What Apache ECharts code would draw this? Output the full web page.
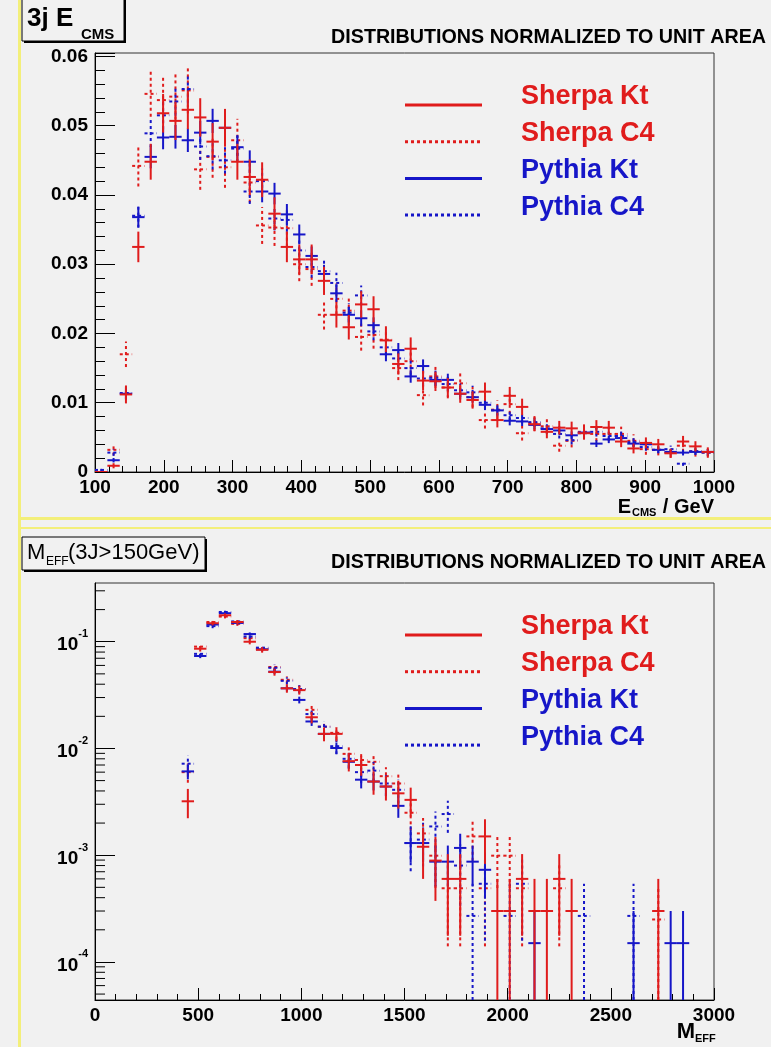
<!DOCTYPE html>
<html><head><meta charset="utf-8">
<script src="https://cdn.jsdelivr.net/npm/echarts@6/dist/echarts.min.js"></script>
<style>html,body{margin:0;padding:0;background:#f1f1f1}#c{width:771px;height:1047px}</style>
</head><body><div id="c"></div>
<script>
// ---------------- DATA ----------------
// Top panel: E_CMS, 50 bins of 18 GeV from 100 to 1000 GeV
const ECMS_LO = 100, ECMS_BW = 18, ECMS_NB = 50;
const ECMS_SHERPA_KT = [0,0.0009,0.0112,0.0325,0.0448,0.0518,0.0507,0.0523,0.0512,0.0477,
  0.0497,0.0448,0.0426,0.0422,0.0373,0.0325,0.0307,0.0307,0.0276,0.0227,
  0.0209,0.0242,0.0235,0.0190,0.0156,0.0178,0.0132,0.0131,0.0122,0.0113,
  0.0104,0.0116,0.0075,0.0110,0.0094,0.0069,0.0058,0.0064,0.0063,0.0056,
  0.0065,0.0064,0.0044,0.0034,0.0042,0.0040,0.0027,0.0044,0.0037,0.0029];
const ECMS_SHERPA_C4 = [0,0.0032,0.0170,0.0442,0.0546,0.0537,0.0542,0.0551,0.0437,0.0455,
  0.0440,0.0479,0.0418,0.0356,0.0353,0.0352,0.0300,0.0293,0.0227,0.0250,
  0.0233,0.0195,0.0198,0.0191,0.0150,0.0160,0.0111,0.0138,0.0122,0.0128,
  0.0108,0.0075,0.0090,0.0098,0.0056,0.0071,0.0066,0.0038,0.0045,0.0058,
  0.0055,0.0055,0.0055,0.0045,0.0033,0.0032,0.0028,0.0038,0.0030,0.0028];
const ECMS_PYTHIA_KT = [0,0.0017,0.0113,0.0368,0.0455,0.0483,0.0484,0.0479,0.0490,0.0507,
  0.0497,0.0469,0.0448,0.0405,0.0402,0.0372,0.0343,0.0312,0.0286,0.0258,
  0.0227,0.0222,0.0212,0.0170,0.0176,0.0138,0.0153,0.0133,0.0133,0.0113,
  0.0108,0.0097,0.0089,0.0074,0.0073,0.0068,0.0062,0.0060,0.0053,0.0057,
  0.0041,0.0047,0.0049,0.0041,0.0040,0.0032,0.0029,0.0028,0.0029,0.0029];
const ECMS_PYTHIA_C4 = [0.0003,0.0028,0.0114,0.0370,0.0489,0.0515,0.0535,0.0553,0.0470,0.0456,
  0.0450,0.0467,0.0405,0.0420,0.0366,0.0364,0.0320,0.0296,0.0290,0.0273,
  0.0230,0.0255,0.0203,0.0180,0.0164,0.0150,0.0135,0.0136,0.0127,0.0118,
  0.0115,0.0100,0.0089,0.0082,0.0078,0.0072,0.0063,0.0055,0.0046,0.0056,
  0.0058,0.0052,0.0052,0.0043,0.0036,0.0032,0.0033,0.0012,0.0030,0.0028];

// Bottom panel: M_EFF, 50 bins of 60 GeV from 0 to 3000 (null = empty bin)
const MEFF_LO = 0, MEFF_BW = 60, MEFF_NB = 50;
const _ = null;
const MEFF_SHERPA_KT = [_,_,_,_,_,_,_,0.0032,0.086,0.149,
  0.177,0.153,0.100,0.084,0.052,0.0366,0.0352,0.0196,0.0137,0.0137,
  0.0076,0.0070,0.0049,0.0044,0.0038,0.0033,0.0012,0.00089,0.00060,0.00060,
  _,0.0015,0.00030,0.00030,0.00060,0.00030,0.00030,0.00060,0.00030,_,
  _,_,_,_,_,0.00030,_,_,_,_];
const MEFF_SHERPA_C4 = [_,_,_,_,_,_,_,0.0060,0.090,0.153,
  0.172,0.147,0.108,0.086,0.058,0.044,0.036,0.023,0.016,0.014,
  0.0089,0.0078,0.0075,0.0055,0.0047,0.0025,0.0016,0.00099,0.00049,0.00049,
  0.0015,0.00049,0.00099,0.00099,0.00049,_,_,0.00049,_,_,
  _,_,_,_,_,0.00025,_,_,_,_];
const MEFF_PYTHIA_KT = [_,_,_,_,_,_,_,0.0061,0.0735,0.145,
  0.185,0.150,0.118,0.085,0.0524,0.0366,0.0285,0.0179,0.0137,0.0101,
  0.0075,0.0051,0.0049,0.0044,0.0029,0.0013,0.0013,0.00087,0.00087,0.00117,
  0.00087,0.00073,_,_,_,0.00015,_,_,_,_,
  _,_,_,0.00015,_,_,0.00015,0.00015,_,_];
const MEFF_PYTHIA_C4 = [_,_,_,_,_,_,_,0.0072,0.077,0.140,
  0.190,0.155,0.112,0.088,0.057,0.043,0.036,0.021,0.016,0.0105,
  0.0080,0.0060,0.0062,0.0047,0.0041,0.0013,0.0014,0.00186,0.00243,0.00080,
  0.00027,0.00054,_,0.00027,0.00054,_,_,_,_,0.00027,
  _,_,_,0.00027,_,_,_,_,_,_];

// per-event weights used for the sqrt(sum w^2) statistical error bars
const W_TOP = {sk: 1.5e-4, sc: 2.0e-4, pk: 6e-5, pc: 8e-5};
const W_BOT = {sk: 3.0e-4, sc: 2.5e-4, pk: 1.5e-4, pc: 2.7e-4};

const SERIES_NAMES = ['Sherpa Kt', 'Sherpa C4', 'Pythia Kt', 'Pythia C4'];

// ---------------- STYLE ----------------
const RED = '#e01c1c', BLUE = '#1616c8', BG = '#f1f1f1';
const FONT = '"Liberation Sans", Arial, sans-serif';
const LOG_MIN = 4.4e-5, LOG_MAX = 0.355;

function centers(lo, bw, n) { const a = []; for (let i = 0; i < n; i++) a.push(lo + bw * (i + 0.5)); return a; }
const ECMS_X = centers(ECMS_LO, ECMS_BW, ECMS_NB);
const MEFF_X = centers(MEFF_LO, MEFF_BW, MEFF_NB);

function errSeries(name, xs, vals, w, color, dotted, gi, half, isLog) {
  const data = [];
  xs.forEach((x, i) => { const v = vals[i]; if (v !== null && v !== undefined) data.push([x, v, Math.sqrt(v * w)]); });
  return {
    type: 'custom', name: name, xAxisIndex: gi, yAxisIndex: gi, clip: true, silent: true,
    data: data,
    renderItem: function (params, api) {
      const x = api.value(0), v = api.value(1), e = api.value(2);
      let lo = v - e, hi = v + e;
      if (isLog) { if (lo < LOG_MIN) lo = LOG_MIN; if (hi > LOG_MAX) hi = LOG_MAX; }
      else { if (lo < 0) lo = 0; }
      const l = api.coord([x - half, v]), r = api.coord([x + half, v]);
      const pl = api.coord([x, lo]), ph = api.coord([x, hi]);
      const st = {stroke: color, lineWidth: 2, lineDash: dotted ? [3, 3] : null};
      return {type: 'group', children: [
        {type: 'line', shape: {x1: l[0], y1: l[1], x2: r[0], y2: r[1]}, style: st},
        {type: 'line', shape: {x1: pl[0], y1: pl[1], x2: ph[0], y2: ph[1]}, style: st}
      ]};
    }
  };
}

// log minor tick values (2..9 x 10^k)
const LOG_MINOR = [];
for (let e = -5; e <= -1; e++) for (let m = 2; m <= 9; m++) { const v = m * Math.pow(10, e); if (v > LOG_MIN && v < LOG_MAX) LOG_MINOR.push(v); }

function legendGraphics(top) {
  const rows = [
    {t: SERIES_NAMES[0], c: RED, d: false},
    {t: SERIES_NAMES[1], c: RED, d: true},
    {t: SERIES_NAMES[2], c: BLUE, d: false},
    {t: SERIES_NAMES[3], c: BLUE, d: true}];
  const els = [];
  rows.forEach((r, i) => {
    const yl = top + 52 + i * 36.7;
    els.push({type: 'line', shape: {x1: 405, y1: yl, x2: 482, y2: yl},
      style: {stroke: r.c, lineWidth: 3, lineDash: r.d ? [3, 3] : null}});
    els.push({type: 'text', x: 521, y: yl - 8, style: {text: r.t, fill: r.c,
      font: 'bold 27px ' + FONT, verticalAlign: 'middle', align: 'left'}});
  });
  return els;
}

function titleBox(x, y, w, h) {
  return [
    {type: 'rect', shape: {x: x + 2, y: y + 2, width: w, height: h}, style: {fill: '#000'}},
    {type: 'rect', shape: {x: x, y: y, width: w, height: h}, style: {fill: BG, stroke: '#000', lineWidth: 1}}
  ];
}

const axisLabelStyle = {color: '#000', fontFamily: FONT, fontWeight: 'bold', fontSize: 19};
const plainNum = v => String(Math.round(v));

const option = {
  backgroundColor: BG,
  animation: false,
  grid: [
    {left: 95, top: 53, width: 619, height: 419, show: true, borderColor: '#333', borderWidth: 1, backgroundColor: 'transparent'},
    {left: 95, top: 583, width: 619, height: 417, show: true, borderColor: '#333', borderWidth: 1, backgroundColor: 'transparent'}
  ],
  xAxis: [
    {type: 'value', gridIndex: 0, min: 100, max: 1000, interval: 100,
      axisLine: {lineStyle: {color: '#000', width: 1}},
      axisTick: {inside: true, length: 12, lineStyle: {color: '#000'}},
      minorTick: {show: true, splitNumber: 5, length: 6, lineStyle: {color: '#000'}},
      splitLine: {show: false},
      axisLabel: Object.assign({margin: 6, formatter: plainNum}, axisLabelStyle)},
    {type: 'value', gridIndex: 1, min: 0, max: 3000, interval: 500,
      axisLine: {lineStyle: {color: '#000', width: 1}},
      axisTick: {inside: true, length: 12, lineStyle: {color: '#000'}},
      minorTick: {show: true, splitNumber: 5, length: 6, lineStyle: {color: '#000'}},
      splitLine: {show: false},
      axisLabel: Object.assign({margin: 6, formatter: plainNum}, axisLabelStyle)}
  ],
  yAxis: [
    {type: 'value', gridIndex: 0, min: 0, max: 0.0605, interval: 0.01,
      axisLine: {show: true, lineStyle: {color: '#000', width: 1}},
      axisTick: {show: true, inside: true, length: 20, lineStyle: {color: '#000'}},
      minorTick: {show: true, splitNumber: 5, length: 10, lineStyle: {color: '#000'}},
      splitLine: {show: false},
      axisLabel: Object.assign({margin: 7, showMaxLabel: false,
        formatter: v => v === 0 ? '0' : v.toFixed(2)}, axisLabelStyle)},
    {type: 'log', logBase: 10, gridIndex: 1, min: LOG_MIN, max: LOG_MAX,
      axisLine: {show: true, lineStyle: {color: '#000', width: 1}},
      axisTick: {show: true, inside: true, length: 20, lineStyle: {color: '#000'}},
      splitLine: {show: false},
      axisLabel: {margin: 7, showMinLabel: false, showMaxLabel: false, color: '#000',
        formatter: function (v) {
          const l = Math.log10(v), e = Math.round(l);
          if (Math.abs(l - e) > 1e-6) return '';
          return '{b|10}{s|' + e + '}';
        },
        rich: {
          b: {fontFamily: FONT, fontWeight: 'bold', fontSize: 19, color: '#000', verticalAlign: 'bottom', lineHeight: 26},
          s: {fontFamily: FONT, fontWeight: 'bold', fontSize: 11, color: '#000', verticalAlign: 'top', lineHeight: 26}
        }}}
  ],
  series: [
    errSeries(SERIES_NAMES[1], ECMS_X, ECMS_SHERPA_C4, W_TOP.sc, RED, true, 0, ECMS_BW / 2, false),
    errSeries(SERIES_NAMES[3], ECMS_X, ECMS_PYTHIA_C4, W_TOP.pc, BLUE, true, 0, ECMS_BW / 2, false),
    errSeries(SERIES_NAMES[2], ECMS_X, ECMS_PYTHIA_KT, W_TOP.pk, BLUE, false, 0, ECMS_BW / 2, false),
    errSeries(SERIES_NAMES[0], ECMS_X, ECMS_SHERPA_KT, W_TOP.sk, RED, false, 0, ECMS_BW / 2, false),
    errSeries(SERIES_NAMES[1], MEFF_X, MEFF_SHERPA_C4, W_BOT.sc, RED, true, 1, MEFF_BW / 2, true),
    errSeries(SERIES_NAMES[3], MEFF_X, MEFF_PYTHIA_C4, W_BOT.pc, BLUE, true, 1, MEFF_BW / 2, true),
    errSeries(SERIES_NAMES[2], MEFF_X, MEFF_PYTHIA_KT, W_BOT.pk, BLUE, false, 1, MEFF_BW / 2, true),
    errSeries(SERIES_NAMES[0], MEFF_X, MEFF_SHERPA_KT, W_BOT.sk, RED, false, 1, MEFF_BW / 2, true),
    {type: 'custom', xAxisIndex: 1, yAxisIndex: 1, silent: true, data: LOG_MINOR.map(v => [MEFF_LO, v]),
      renderItem: function (params, api) {
        const p = api.coord([api.value(0), api.value(1)]);
        return {type: 'line', shape: {x1: p[0], y1: p[1], x2: p[0] + 10, y2: p[1]}, style: {stroke: '#000', lineWidth: 1}};
      }}
  ],
  graphic: [].concat(
    // pad borders
    [{type: 'rect', shape: {x: 18, y: 0, width: 3, height: 1047}, style: {fill: '#f3ef7a'}},
     {type: 'rect', shape: {x: 18, y: 517, width: 753, height: 3}, style: {fill: '#f3ef7a'}},
     {type: 'rect', shape: {x: 18, y: 527, width: 753, height: 2}, style: {fill: '#f3ef7a'}}],
    titleBox(22, -2, 102, 43),
    [{type: 'text', x: 27, y: 19, style: {text: '3j E', font: 'bold 26px ' + FONT, fill: '#000', verticalAlign: 'middle'}},
     {type: 'text', x: 81, y: 35, style: {text: 'CMS', font: 'bold 15px ' + FONT, fill: '#000', verticalAlign: 'middle'}},
     {type: 'text', x: 766, y: 38, style: {text: 'DISTRIBUTIONS NORMALIZED TO UNIT AREA', font: 'bold 19.7px ' + FONT, fill: '#000', align: 'right', verticalAlign: 'middle'}},
     {type: 'text', x: 714, y: 507, style: {text: '/ GeV', font: 'bold 20px ' + FONT, fill: '#000', align: 'right', verticalAlign: 'middle'}},
     {type: 'text', x: 631, y: 507, style: {text: 'E', font: 'bold 20px ' + FONT, fill: '#000', align: 'right', verticalAlign: 'middle'}},
     {type: 'text', x: 632, y: 513, style: {text: 'CMS', font: 'bold 11px ' + FONT, fill: '#000', align: 'left', verticalAlign: 'middle'}}],
    titleBox(22, 537, 183, 33),
    [{type: 'text', x: 27, y: 553, style: {text: 'M', font: '22px ' + FONT, fill: '#000', verticalAlign: 'middle'}},
     {type: 'text', x: 46, y: 562, style: {text: 'EFF', font: '12px ' + FONT, fill: '#000', verticalAlign: 'middle'}},
     {type: 'text', x: 68, y: 553, style: {text: '(3J>150GeV)', font: '22px ' + FONT, fill: '#000', verticalAlign: 'middle'}},
     {type: 'text', x: 766, y: 563, style: {text: 'DISTRIBUTIONS NORMALIZED TO UNIT AREA', font: 'bold 19.7px ' + FONT, fill: '#000', align: 'right', verticalAlign: 'middle'}},
     {type: 'text', x: 695, y: 1032, style: {text: 'M', font: 'bold 22px ' + FONT, fill: '#000', align: 'right', verticalAlign: 'middle'}},
     {type: 'text', x: 695, y: 1039, style: {text: 'EFF', font: 'bold 11px ' + FONT, fill: '#000', align: 'left', verticalAlign: 'middle'}}],
    legendGraphics(53),
    legendGraphics(583)
  )
};
const chart = echarts.init(document.getElementById('c'), null, {renderer: 'canvas'});
chart.setOption(option);
</script></body></html>
